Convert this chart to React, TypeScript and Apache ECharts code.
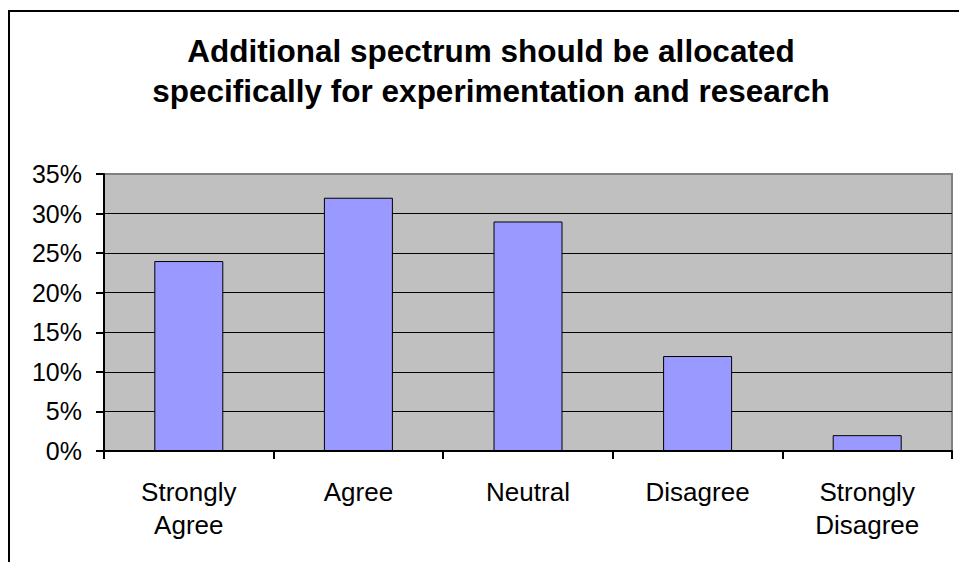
import React, { useEffect, useRef } from "react";
import * as echarts from "echarts";

const categories = ["Strongly\nAgree", "Agree", "Neutral", "Disagree", "Strongly\nDisagree"];
const values = [24, 32, 29, 12, 2];
const titleLines = [
  "Additional spectrum should be allocated",
  "specifically for experimentation and research",
];

export default function App() {
  const ref = useRef<HTMLDivElement>(null);
  useEffect(() => {
    if (!ref.current) return;
    const chart = echarts.init(ref.current, null, { renderer: "svg" });
    chart.setOption({
      animation: false,
      backgroundColor: "#ffffff",
      graphic: [
        {
          type: "rect",
          shape: { x: 9, y: 11, width: 1000, height: 600 },
          style: { fill: "none", stroke: "#000", lineWidth: 2 },
          z: 100,
        },
        {
          type: "text",
          x: 491,
          y: 31,
          style: {
            text: titleLines.join("\n"),
            align: "center",
            verticalAlign: "top",
            font: "bold 31.5px 'Liberation Sans', Arial, sans-serif",
            lineHeight: 40,
            fill: "#000",
          },
        },
      ],
      grid: {
        left: 104,
        right: 7,
        top: 174,
        bottom: 111,
        show: true,
        backgroundColor: "#c0c0c0",
        borderColor: "#808080",
        borderWidth: 2,
      },
      xAxis: {
        type: "category",
        data: categories,
        boundaryGap: true,
        axisLine: { show: true, lineStyle: { color: "#000", width: 2 } },
        axisTick: { show: true, length: 8, lineStyle: { color: "#000", width: 2 } },
        axisLabel: {
          color: "#000",
          fontFamily: "'Liberation Sans', Arial, sans-serif",
          fontSize: 26,
          lineHeight: 33,
          margin: 24,
          interval: 0,
        },
      },
      yAxis: {
        type: "value",
        min: 0,
        max: 35,
        interval: 5,
        axisLine: { show: true, lineStyle: { color: "#000", width: 2 } },
        axisTick: { show: true, length: 8, lineStyle: { color: "#000", width: 2 } },
        axisLabel: {
          color: "#000",
          fontFamily: "'Liberation Sans', Arial, sans-serif",
          fontSize: 25,
          margin: 22,
          formatter: "{value}%",
        },
        splitLine: {
          show: true,
          lineStyle: {
            color: ["#000", "#000", "#000", "#000", "#000", "#000", "#000", "#808080"],
            width: 1,
          },
        },
      },
      series: [
        {
          type: "bar",
          data: values,
          barWidth: 69,
          itemStyle: { color: "#9999ff", borderColor: "#000", borderWidth: 1 },
        },
      ],
    });
    return () => chart.dispose();
  }, []);
  return (
    <div
      ref={ref}
      style={{ position: "absolute", left: 0, top: 0, width: 959, height: 562 }}
    />
  );
}
